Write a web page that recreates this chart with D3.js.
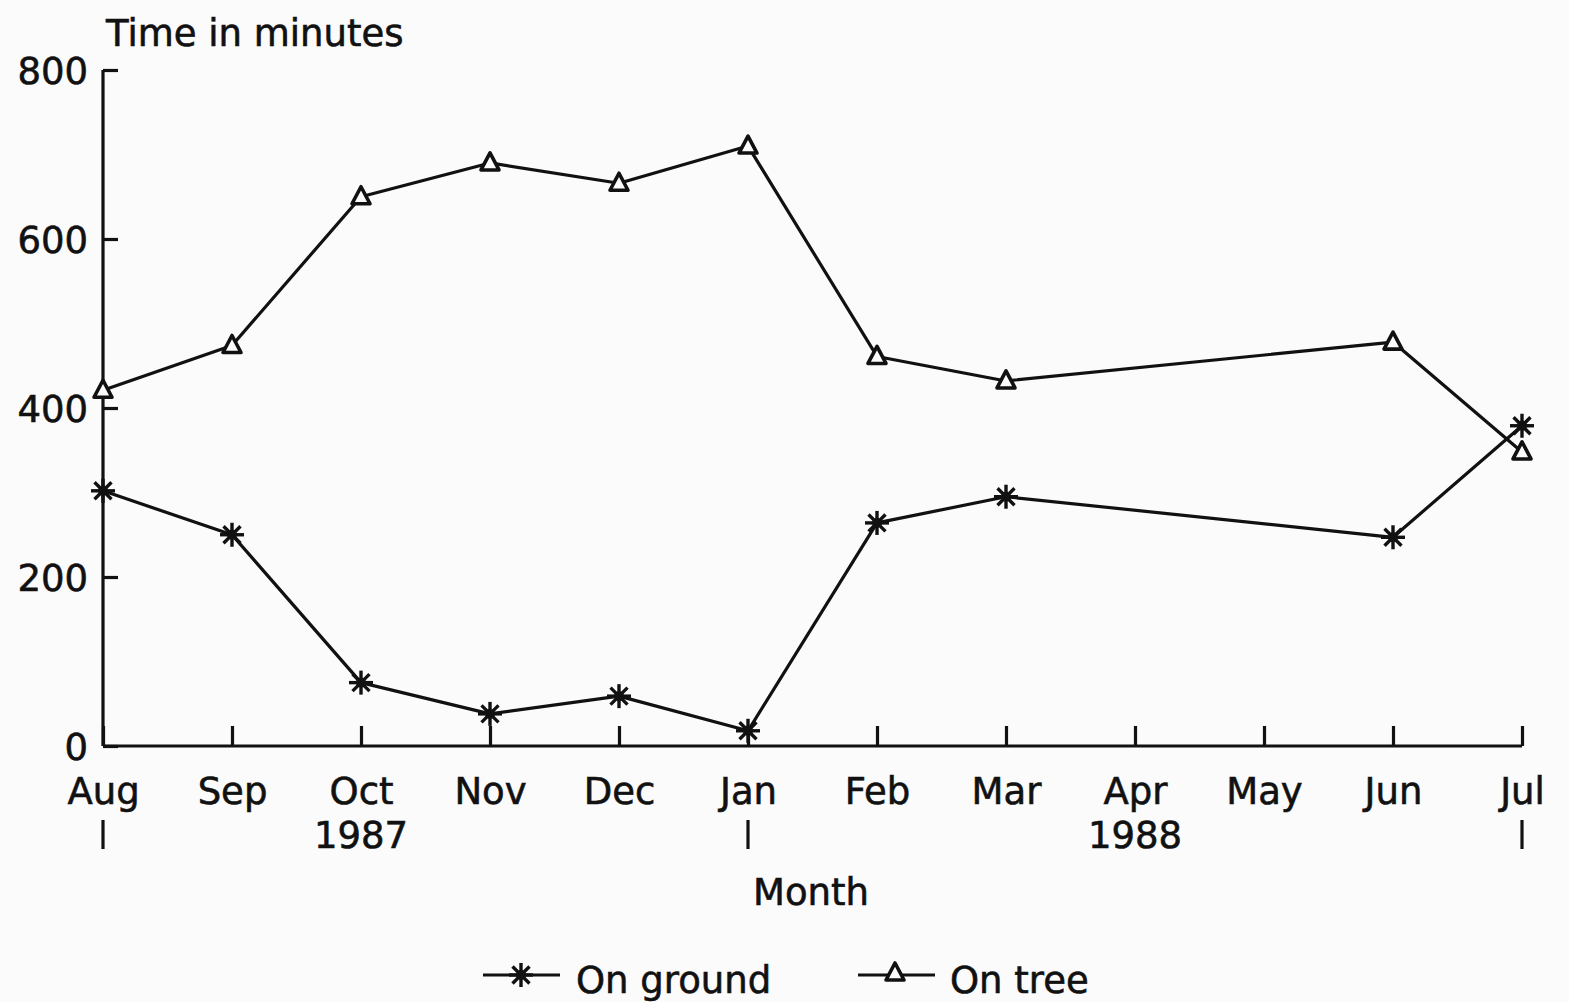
<!DOCTYPE html>
<html>
<head>
<meta charset="utf-8">
<script src="https://cdn.jsdelivr.net/npm/d3@7"></script>
<style>
  html, body { margin: 0; padding: 0; background: #fbfbfb; }
  svg { display: block; }
  text { font-family: "DejaVu Sans", "Liberation Sans", Arial, sans-serif; fill: #111; stroke: #111; stroke-width: 0.6px; }
</style>
</head>
<body>
<svg id="chart" width="1569" height="1002"></svg>
<script>
const months = ["Aug","Sep","Oct","Nov","Dec","Jan","Feb","Mar","Apr","May","Jun","Jul"];
const yearLabels = [{month: "Oct", label: "1987"}, {month: "Apr", label: "1988"}];
const separatorMonths = ["Aug", "Jan", "Jul"];
const yTicks = [0, 200, 400, 600, 800];
const dataMonths = ["Aug","Sep","Oct","Nov","Dec","Jan","Feb","Mar","Jun","Jul"];
const onGround = [302, 250, 75, 38, 59, 18, 264, 295, 247, 379];
const onTree = [421, 474, 650, 690, 666, 710, 461, 432, 478, 348];

const svg = d3.select("#chart");
const mLeft = 103, mRight = 1522, mTop = 70, mBottom = 746;
const x = d3.scalePoint().domain(months).range([mLeft, mRight]);
const y = d3.scaleLinear().domain([0, 800]).range([mBottom, mTop]);
const ink = "#111";
const sw = 3.2;
const fs = 37;

// Y axis
const yAxis = svg.append("g").attr("transform", `translate(${mLeft},0)`)
  .call(d3.axisLeft(y).tickValues(yTicks).tickSize(-15).tickPadding(30).tickFormat(d3.format("d")));
yAxis.select(".domain").attr("stroke", ink).attr("stroke-width", sw).attr("d", `M0,${mBottom}V${mTop}`);
yAxis.selectAll(".tick line").attr("stroke", ink).attr("stroke-width", sw);
yAxis.selectAll(".tick text").attr("font-size", fs).attr("fill", ink).attr("x", -15).attr("dy", "0.36em");

// X axis
const xAxis = svg.append("g").attr("transform", `translate(0,${mBottom})`)
  .call(d3.axisBottom(x).tickSize(-20).tickPadding(0));
xAxis.select(".domain").attr("stroke", ink).attr("stroke-width", sw).attr("d", `M${mLeft},0H${mRight}`);
xAxis.selectAll(".tick line").attr("stroke", ink).attr("stroke-width", sw);
xAxis.selectAll(".tick text").attr("font-size", fs).attr("fill", ink).attr("y", 58).attr("dy", 0);

// year labels
svg.selectAll(".year").data(yearLabels).join("text")
  .attr("x", d => x(d.month)).attr("y", 848).attr("text-anchor", "middle")
  .attr("font-size", fs).text(d => d.label);

// separators
svg.selectAll(".sep").data(separatorMonths).join("line")
  .attr("x1", d => x(d)).attr("x2", d => x(d)).attr("y1", 820).attr("y2", 849)
  .attr("stroke", ink).attr("stroke-width", sw);

// titles
svg.append("text").attr("x", 106).attr("y", 46).attr("font-size", fs).text("Time in minutes");
svg.append("text").attr("x", 811).attr("y", 905).attr("text-anchor", "middle").attr("font-size", fs).text("Month");

const line = d3.line().x(d => x(d.m)).y(d => y(d.v));
const groundPts = dataMonths.map((m, i) => ({m, v: onGround[i]}));
const treePts = dataMonths.map((m, i) => ({m, v: onTree[i]}));

svg.append("path").datum(treePts).attr("d", line).attr("fill", "none").attr("stroke", ink).attr("stroke-width", sw).attr("stroke-linejoin", "round");
svg.append("path").datum(groundPts).attr("d", line).attr("fill", "none").attr("stroke", ink).attr("stroke-width", sw).attr("stroke-linejoin", "round");

function star(g, cx, cy) {
  const r = 12;
  const s = g.append("g").attr("transform", `translate(${cx},${cy})`);
  for (let k = 0; k < 4; k++) {
    const a = k * Math.PI / 4;
    s.append("line").attr("x1", -r * Math.cos(a)).attr("y1", -r * Math.sin(a))
      .attr("x2", r * Math.cos(a)).attr("y2", r * Math.sin(a))
      .attr("stroke", ink).attr("stroke-width", 3.4);
  }
  s.append("circle").attr("r", 5).attr("fill", ink);
}
function tri(g, cx, cy) {
  g.append("path").attr("transform", `translate(${cx},${cy})`)
    .attr("d", "M0,-10L9,7L-9,7Z").attr("fill", "#fbfbfb").attr("stroke", ink).attr("stroke-width", 3.6).attr("stroke-linejoin", "round");
}
const marks = svg.append("g");
treePts.forEach(d => tri(marks, x(d.m), y(d.v)));
groundPts.forEach(d => star(marks, x(d.m), y(d.v)));

// legend
const lg = svg.append("g");
lg.append("line").attr("x1", 483).attr("x2", 560).attr("y1", 975).attr("y2", 975).attr("stroke", ink).attr("stroke-width", sw);
star(lg, 521, 975);
lg.append("text").attr("x", 576).attr("y", 993).attr("font-size", fs).text("On ground");
lg.append("line").attr("x1", 858).attr("x2", 935).attr("y1", 975).attr("y2", 975).attr("stroke", ink).attr("stroke-width", sw);
tri(lg, 895, 973);
lg.append("text").attr("x", 950).attr("y", 993).attr("font-size", fs).text("On tree");
</script>
</body>
</html>
